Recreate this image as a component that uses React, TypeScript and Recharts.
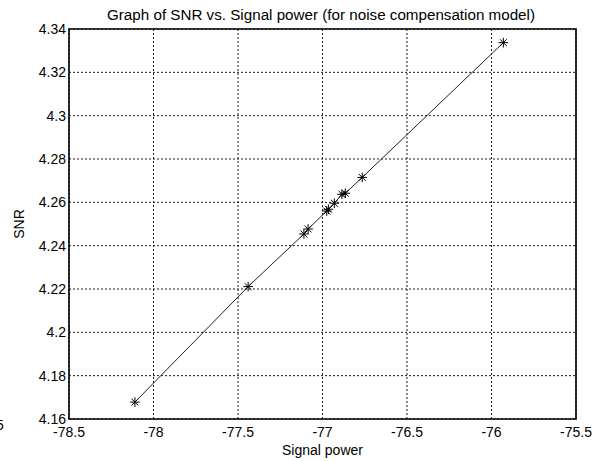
import React from "react";
import {
  LineChart,
  Line,
  XAxis,
  YAxis,
  CartesianGrid,
  ReferenceArea,
  Label,
} from "recharts";

// signal power (x) and SNR (y)
const signalPower = [
  -78.11, -77.44, -77.11, -77.085, -76.975, -76.965, -76.93, -76.885, -76.865,
  -76.765, -75.93,
];
const snr = [
  4.1678, 4.2211, 4.2454, 4.2477, 4.256, 4.2568, 4.2596, 4.2637, 4.2642,
  4.2715, 4.3337,
];
const xTicks = [-78.5, -78, -77.5, -77, -76.5, -76, -75.5];
const yTicks = [4.16, 4.18, 4.2, 4.22, 4.24, 4.26, 4.28, 4.3, 4.32, 4.34];

const data = signalPower.map((x, i) => ({ x, y: snr[i] }));

const FONT = "'Liberation Sans', Arial, Helvetica, sans-serif";

const Star = (props: any) => {
  const { cx, cy } = props;
  if (cx == null || cy == null) return null;
  const r = 4.8;
  const d = r * 0.72;
  return (
    <g stroke="#000" strokeWidth={1}>
      <line x1={cx - r} y1={cy} x2={cx + r} y2={cy} />
      <line x1={cx} y1={cy - r} x2={cx} y2={cy + r} />
      <line x1={cx - d} y1={cy - d} x2={cx + d} y2={cy + d} />
      <line x1={cx - d} y1={cy + d} x2={cx + d} y2={cy - d} />
    </g>
  );
};

const App = () => {
  return (
    <div
      style={{
        position: "absolute",
        left: 0,
        top: 0,
        width: 598,
        height: 461,
        overflow: "hidden",
        background: "#fff",
      }}
    >
      <LineChart
        width={598}
        height={461}
        data={data}
        margin={{ top: 29, right: 22, left: 0, bottom: 0 }}
      >
        <CartesianGrid
          stroke="#000"
          strokeWidth={0.9}
          strokeDasharray="2 2"
          horizontalValues={yTicks}
          verticalValues={xTicks}
        />
        <XAxis
          dataKey="x"
          type="number"
          domain={[-78.5, -75.5]}
          ticks={xTicks}
          allowDataOverflow
          height={42}
          tickSize={0}
          tickMargin={8}
          axisLine={false}
          tick={{ fill: "#000", fontSize: 14, fontFamily: FONT }}
          tickFormatter={(v: number) => String(v)}
        >
          <Label
            value="Signal power"
            position="insideBottom"
            offset={6}
            style={{ fill: "#000", fontSize: 14, fontFamily: FONT }}
          />
        </XAxis>
        <YAxis
          dataKey="y"
          type="number"
          domain={[4.16, 4.34]}
          ticks={yTicks}
          allowDataOverflow
          width={69}
          tickSize={0}
          tickMargin={3}
          axisLine={false}
          tick={{ fill: "#000", fontSize: 14, fontFamily: FONT }}
          tickFormatter={(v: number) => String(v)}
        >
          <Label
            value="SNR"
            angle={-90}
            position="insideLeft"
            offset={19}
            style={{
              fill: "#000",
              fontSize: 14,
              fontFamily: FONT,
              textAnchor: "middle",
            }}
          />
        </YAxis>
        <ReferenceArea
          x1={-78.5}
          x2={-75.5}
          y1={4.16}
          y2={4.34}
          fill="none"
          stroke="#000"
          strokeWidth={1.6}
          ifOverflow="visible"
        />
        <Line
          type="linear"
          dataKey="y"
          stroke="#222"
          strokeWidth={1}
          dot={<Star />}
          activeDot={false}
          isAnimationActive={false}
        />
      </LineChart>
      <svg
        width={598}
        height={461}
        style={{ position: "absolute", left: 0, top: 0, pointerEvents: "none" }}
      >
        <text
          x={321}
          y={20}
          textAnchor="middle"
          fontSize={14}
          fontFamily={FONT}
          fill="#000"
          textLength={428}
          lengthAdjust="spacingAndGlyphs"
        >
          Graph of SNR vs. Signal power (for noise compensation model)
        </text>
        <text x={-4} y={430} fontSize={14} fontFamily={FONT} fill="#000">
          5
        </text>
        <text
          x={8}
          y={473}
          fontSize={17}
          fontFamily="'Liberation Serif', 'Times New Roman', serif"
          fill="#777"
        >
          Figure 3: SNR vs. signal power for modified noise compensation
        </text>
      </svg>
    </div>
  );
};

export default App;
